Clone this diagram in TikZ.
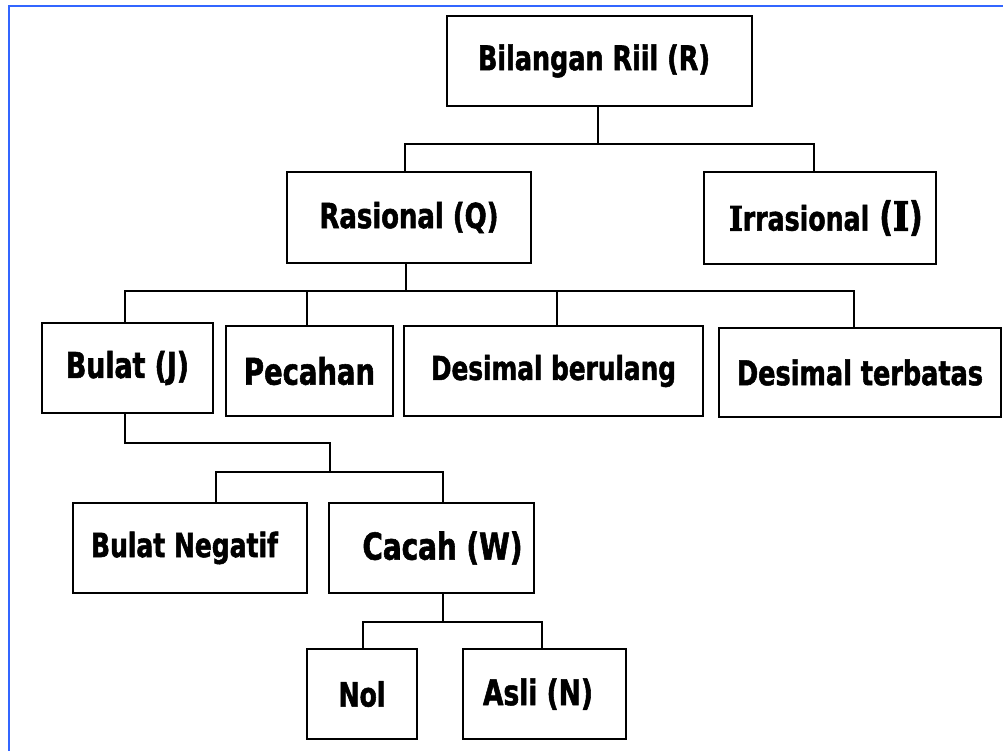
\documentclass[tikz,border=0pt]{standalone}
\usepackage{fontspec}
\setmainfont{DejaVu Sans}[FakeStretch=0.75,FakeBold=1.5]
\newfontfamily\serifI{DejaVu Serif}[FakeStretch=0.85,FakeBold=3]
\usepackage{graphicx}
\newlength\pxu
\setlength\pxu{0.75pt}
\newcommand{\fitw}[2]{\resizebox{#1\pxu}{!}{#2}}
\definecolor{frameblue}{RGB}{51,102,255}
\begin{document}
\begin{tikzpicture}[x=0.75pt,y=-0.75pt,
  box/.style={draw, line width=1.9pt, rectangle, inner sep=0pt, outer sep=0pt,
    font=\bfseries\fontsize{24}{28}\selectfont},
  sz/.style 2 args={minimum width=#1*0.75pt, minimum height=#2*0.75pt},
  conn/.style={line width=1.6pt, line join=miter},
  frame/.style={draw=frameblue, line width=1.6pt}]
\useasboundingbox (0,0) rectangle (1003,751);
\draw[frame] (1003,6) -- (9,6) -- (9,751);

% boxes
\node[box, sz={305}{90}] (R) at (599.5,61) {\raisebox{2\pxu}{\fitw{232}{Bilangan Riil (R)}}\hspace*{11\pxu}};
\node[box, sz={244}{91}] (Q) at (409,217.5) {\fitw{179}{Rasional (Q)}};
\node[box, sz={232}{92}] (I) at (820,218) {\hspace*{12\pxu}\fitw{140}{{\serifI I}rrasional}\hspace{10\pxu}{\fontsize{30}{30}\selectfont ({\serifI I})}};
\node[box, sz={171}{90}] (J) at (127.5,368) {\fitw{123}{Bulat (J)}};
\node[box, sz={167}{90}] (P) at (309.5,371) {\fitw{131}{Pecahan}};
\node[box, sz={299}{90}] (DB) at (553.5,371) {\fitw{245}{Desimal berulang}};
\node[box, sz={282}{89}] (DT) at (860,372.5) {\fitw{246}{Desimal terbatas}};
\node[box, sz={234}{90}] (BN) at (190,548) {\fitw{187}{Bulat Negatif}\hspace*{11\pxu}};
\node[box, sz={205}{90}] (W) at (431.5,548) {\hspace*{22\pxu}\fitw{160}{Cacah (W)}};
\node[box, sz={110}{90}] (N0) at (362,694) {\fitw{47}{Nol}};
\node[box, sz={163}{90}] (A) at (544.5,694) {\fitw{110}{Asli (N)}\hspace*{13\pxu}};

% level 1
\coordinate (jR) at (598,144);
\coordinate (jQ) at (405,144);
\coordinate (jI) at (814,144);
\draw[conn] (R.south -| jR) -- (jR);
\draw[conn] (Q.north -| jQ) -- (jQ) -- (jI) -- (I.north -| jI);

% level 2
\coordinate (kQ) at (406,291);
\coordinate (kJ) at (125,291);
\coordinate (kP) at (307,291);
\coordinate (kDB) at (557,291);
\coordinate (kDT) at (854,291);
\draw[conn] (Q.south -| kQ) -- (kQ);
\draw[conn] (J.north -| kJ) -- (kJ) -- (kDT) -- (DT.north -| kDT);
\draw[conn] (P.north -| kP) -- (kP);
\draw[conn] (DB.north -| kDB) -- (kDB);

% level 3
\coordinate (mJ) at (125,443);
\coordinate (mX) at (330,443);
\coordinate (nX) at (330,472);
\coordinate (nBN) at (216,472);
\coordinate (nW) at (443,472);
\draw[conn] (J.south -| mJ) -- (mJ) -- (mX) -- (nX);
\draw[conn] (BN.north -| nBN) -- (nBN) -- (nW) -- (W.north -| nW);

% level 4
\coordinate (pW) at (443,622);
\coordinate (pN) at (363,622);
\coordinate (pA) at (542,622);
\draw[conn] (W.south -| pW) -- (pW);
\draw[conn] (N0.north -| pN) -- (pN) -- (pA) -- (A.north -| pA);
\end{tikzpicture}
\end{document}
